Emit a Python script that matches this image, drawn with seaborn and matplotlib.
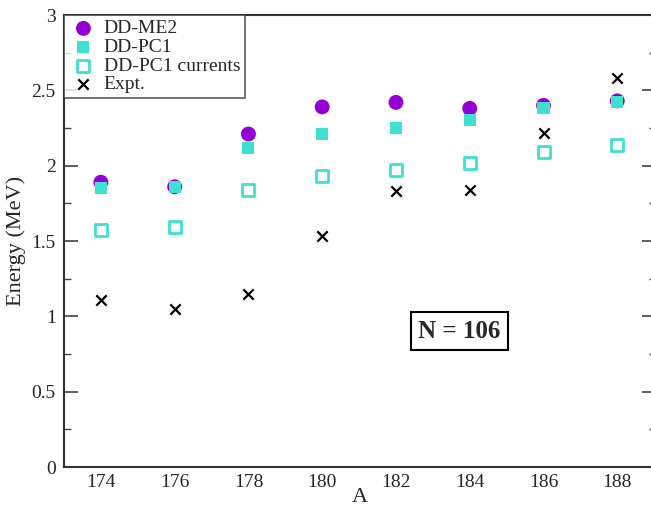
import matplotlib
matplotlib.use("Agg")
import matplotlib.pyplot as plt
import seaborn as sns
from matplotlib.ticker import MultipleLocator, FuncFormatter

A = [174, 176, 178, 180, 182, 184, 186, 188]
dd_me2 = [1.89, 1.86, 2.21, 2.39, 2.42, 2.38, 2.40, 2.43]
dd_pc1 = [1.85, 1.86, 2.12, 2.21, 2.25, 2.30, 2.38, 2.42]
dd_pc1_cur = [1.57, 1.59, 1.84, 1.93, 1.97, 2.02, 2.09, 2.14]
expt = [1.11, 1.05, 1.15, 1.53, 1.83, 1.84, 2.22, 2.58]

sns.set_theme(style="white")
plt.rcParams['font.family'] = ['Liberation Serif', 'DejaVu Serif']

fig = plt.figure(figsize=(6.51, 5.08), dpi=100)
ax = fig.add_axes([64/651, 1-467/508, 592/651, (467-15)/508])

purple = "#9400D3"
turq = "#40E0D0"

sns.scatterplot(x=A, y=dd_me2, ax=ax, marker="o", s=115, color=purple,
                edgecolor="none", label="DD-ME2", zorder=3)
sns.scatterplot(x=A, y=dd_pc1, ax=ax, marker="s", s=75, color=turq,
                edgecolor="none", label="DD-PC1", zorder=4)
sns.scatterplot(x=A, y=dd_pc1_cur, ax=ax, marker="s", s=75, facecolor="white",
                edgecolor=turq, linewidth=2, label="DD-PC1 currents", zorder=4)
sns.scatterplot(x=A, y=expt, ax=ax, marker="x", s=55, color="black",
                linewidth=1.6, label="Expt.", zorder=5)

ax.set_xlim(173, 189.05)
ax.set_ylim(0, 3)
ax.set_xticks(A)
ax.set_xticklabels([str(a) for a in A])
ax.yaxis.set_major_locator(MultipleLocator(0.5))
ax.yaxis.set_minor_locator(MultipleLocator(0.25))
ax.yaxis.set_major_formatter(FuncFormatter(lambda v, p: f"{v:g}"))
ax.tick_params(axis="y", which="major", direction="in", length=10, width=1.2,
               left=True, right=True, labelsize=14, color="#444444", pad=6)
ax.tick_params(axis="y", which="minor", direction="in", length=5, width=1,
               left=True, right=True, color="#444444")
ax.tick_params(axis="x", which="major", direction="in", length=0, labelsize=14, pad=5)
for sp in ax.spines.values():
    sp.set_color("#333333")
    sp.set_linewidth(1.5)

ax.set_xlabel("A", fontsize=16, labelpad=-2)
ax.set_ylabel("Energy (MeV)", fontsize=16, labelpad=4)

leg = ax.legend(loc="upper left", frameon=True, fontsize=14, borderaxespad=0,
                handletextpad=0.3, labelspacing=0.05, borderpad=0.25,
                handlelength=1.5, fancybox=False)
leg.get_frame().set_edgecolor("#333333")
leg.get_frame().set_linewidth(1.2)

ax.text(183.72, 0.90, "N = 106", fontsize=18, fontweight="bold", ha="center", va="center",
        bbox=dict(boxstyle="square,pad=0.3", facecolor="white", edgecolor="black", linewidth=1.5))

fig.savefig("out.png", dpi=100)
